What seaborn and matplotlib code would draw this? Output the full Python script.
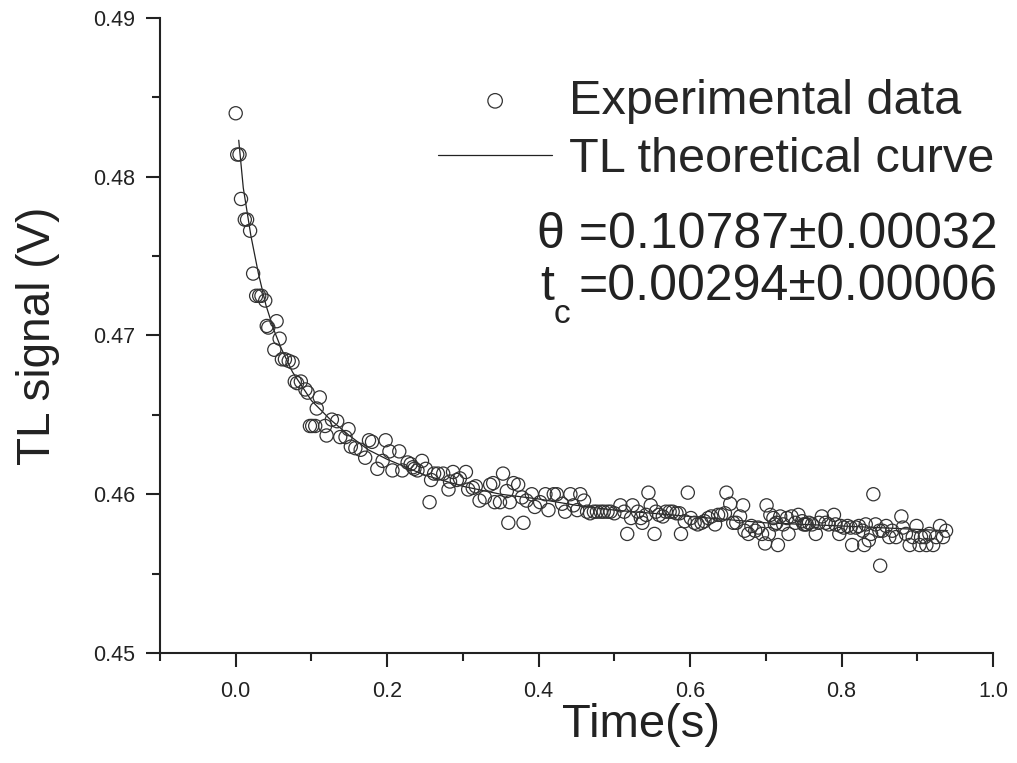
import numpy as np
import seaborn as sns
import matplotlib.pyplot as plt
from matplotlib.ticker import MultipleLocator

# ---- experimental TL signal ----
time_s = [
    0.000, 0.002, 0.005, 0.007, 0.012, 0.015, 0.019, 0.023, 0.027, 0.031,
    0.034, 0.039, 0.041, 0.043, 0.051, 0.054, 0.058, 0.061, 0.065, 0.070,
    0.075, 0.078, 0.081, 0.086, 0.092, 0.095, 0.098, 0.101, 0.105, 0.107,
    0.111, 0.118, 0.120, 0.127, 0.134, 0.138, 0.145, 0.149, 0.152, 0.158,
    0.165, 0.171, 0.176, 0.180, 0.187, 0.194, 0.198, 0.203, 0.207, 0.216,
    0.220, 0.227, 0.231, 0.234, 0.236, 0.240, 0.246, 0.251, 0.256, 0.258,
    0.262, 0.267, 0.274, 0.281, 0.283, 0.287, 0.292, 0.296, 0.304, 0.307,
    0.313, 0.317, 0.322, 0.329, 0.336, 0.340, 0.342, 0.349, 0.353, 0.358,
    0.360, 0.362, 0.367, 0.373, 0.378, 0.380, 0.384, 0.391, 0.395, 0.402,
    0.409, 0.413, 0.420, 0.424, 0.431, 0.435, 0.442, 0.446, 0.451, 0.455,
    0.460, 0.464, 0.468, 0.473, 0.477, 0.482, 0.486, 0.491, 0.495, 0.500,
    0.508, 0.513, 0.517, 0.522, 0.524, 0.531, 0.535, 0.537, 0.542, 0.545,
    0.548, 0.553, 0.555, 0.559, 0.564, 0.568, 0.573, 0.577, 0.582, 0.586,
    0.588, 0.593, 0.597, 0.601, 0.606, 0.610, 0.615, 0.619, 0.624, 0.628,
    0.633, 0.637, 0.641, 0.646, 0.648, 0.653, 0.657, 0.661, 0.666, 0.670,
    0.672, 0.677, 0.681, 0.686, 0.690, 0.695, 0.699, 0.701, 0.704, 0.706,
    0.710, 0.712, 0.714, 0.716, 0.719, 0.723, 0.728, 0.730, 0.734, 0.739,
    0.743, 0.748, 0.750, 0.752, 0.754, 0.757, 0.761, 0.766, 0.770, 0.774,
    0.779, 0.783, 0.790, 0.792, 0.797, 0.799, 0.803, 0.808, 0.812, 0.814,
    0.819, 0.823, 0.828, 0.830, 0.832, 0.836, 0.839, 0.842, 0.845, 0.850,
    0.851, 0.854, 0.859, 0.863, 0.867, 0.872, 0.879, 0.881, 0.885, 0.890,
    0.894, 0.899, 0.903, 0.905, 0.910, 0.912, 0.916, 0.921, 0.925, 0.930,
    0.934, 0.938,
]
signal_v = [
    0.4840, 0.4814, 0.4814, 0.4786, 0.4773, 0.4773, 0.4766, 0.4739, 0.4725, 0.4725,
    0.4725, 0.4722, 0.4706, 0.4705, 0.4691, 0.4709, 0.4698, 0.4685, 0.4685, 0.4684,
    0.4683, 0.4671, 0.4670, 0.4671, 0.4666, 0.4664, 0.4643, 0.4643, 0.4643, 0.4654,
    0.4661, 0.4643, 0.4637, 0.4647, 0.4646, 0.4636, 0.4636, 0.4641, 0.4630, 0.4629,
    0.4628, 0.4623, 0.4634, 0.4633, 0.4616, 0.4621, 0.4634, 0.4627, 0.4615, 0.4627,
    0.4615, 0.4620, 0.4619, 0.4617, 0.4616, 0.4615, 0.4621, 0.4616, 0.4595, 0.4609,
    0.4613, 0.4613, 0.4613, 0.4603, 0.4608, 0.4614, 0.4609, 0.4610, 0.4614, 0.4603,
    0.4604, 0.4605, 0.4596, 0.4598, 0.4606, 0.4607, 0.4595, 0.4595, 0.4613, 0.4602,
    0.4582, 0.4595, 0.4607, 0.4606, 0.4598, 0.4582, 0.4596, 0.4600, 0.4592, 0.4595,
    0.4600, 0.4590, 0.4600, 0.4600, 0.4594, 0.4589, 0.4600, 0.4593, 0.4590, 0.4600,
    0.4596, 0.4589, 0.4588, 0.4589, 0.4589, 0.4589, 0.4589, 0.4589, 0.4589, 0.4588,
    0.4593, 0.4589, 0.4575, 0.4585, 0.4593, 0.4589, 0.4585, 0.4582, 0.4587, 0.4601,
    0.4593, 0.4575, 0.4589, 0.4587, 0.4586, 0.4589, 0.4589, 0.4589, 0.4588, 0.4588,
    0.4575, 0.4583, 0.4601, 0.4585, 0.4582, 0.4581, 0.4582, 0.4583, 0.4585, 0.4586,
    0.4581, 0.4587, 0.4587, 0.4588, 0.4601, 0.4594, 0.4582, 0.4582, 0.4586, 0.4593,
    0.4577, 0.4575, 0.4580, 0.4577, 0.4579, 0.4575, 0.4569, 0.4593, 0.4575, 0.4587,
    0.4585, 0.4581, 0.4582, 0.4568, 0.4586, 0.4581, 0.4585, 0.4575, 0.4586, 0.4582,
    0.4587, 0.4583, 0.4581, 0.4581, 0.4581, 0.4582, 0.4581, 0.4575, 0.4582, 0.4586,
    0.4582, 0.4581, 0.4587, 0.4581, 0.4575, 0.4580, 0.4579, 0.4580, 0.4579, 0.4568,
    0.4579, 0.4580, 0.4577, 0.4568, 0.4581, 0.4571, 0.4575, 0.4600, 0.4581, 0.4577,
    0.4555, 0.4577, 0.4580, 0.4573, 0.4577, 0.4573, 0.4586, 0.4579, 0.4575, 0.4568,
    0.4573, 0.4580, 0.4568, 0.4573, 0.4573, 0.4568, 0.4575, 0.4568, 0.4573, 0.4580,
    0.4573, 0.4577,
]

# ---- theoretical TL curve ----
fit_time = [0.004, 0.010, 0.020, 0.030, 0.040, 0.050, 0.060, 0.075, 0.100, 0.125,
            0.150, 0.175, 0.200, 0.250, 0.300, 0.350, 0.400, 0.450, 0.500, 0.600,
            0.700, 0.800, 0.940]
fit_signal = [0.4823, 0.4793, 0.4763, 0.4739, 0.4719, 0.4704, 0.4692, 0.4677, 0.4659, 0.4647,
              0.4637, 0.4628, 0.4622, 0.4612, 0.4605, 0.4600, 0.4597, 0.4593, 0.4590, 0.4586,
              0.4582, 0.4580, 0.4577]

theta_txt = "θ =0.10787±0.00032"
tc_txt = "=0.00294±0.00006"


def main():
    sns.set_style("ticks")
    plt.rcParams['font.family'] = ['Liberation Sans', 'DejaVu Sans']

    fig = plt.figure(figsize=(10.17, 7.63), dpi=100)
    ax = fig.add_axes([0.1573, 0.1442, 0.8191, 0.8322])

    sns.lineplot(x=fit_time, y=fit_signal, ax=ax, color="#222222", lw=0.9,
                 label="TL theoretical curve")
    sns.scatterplot(x=time_s, y=signal_v, ax=ax, marker="o", s=90,
                    facecolors="none", edgecolor="#333333", linewidth=0.9,
                    label="Experimental data", zorder=3)

    ax.set_xlim(-0.1, 1.0)
    ax.set_ylim(0.45, 0.49)
    ax.xaxis.set_minor_locator(MultipleLocator(0.1))
    ax.yaxis.set_minor_locator(MultipleLocator(0.005))
    ax.set_xticks([0.0, 0.2, 0.4, 0.6, 0.8, 1.0])
    ax.set_xticklabels(["0.0", "0.2", "0.4", "0.6", "0.8", "1.0"])
    ax.set_yticks([0.45, 0.46, 0.47, 0.48, 0.49])
    ax.set_yticklabels(["0.45", "0.46", "0.47", "0.48", "0.49"])

    for side in ["top", "right"]:
        ax.spines[side].set_visible(False)
    for side in ["left", "bottom"]:
        ax.spines[side].set_linewidth(1.5)
        ax.spines[side].set_color("#222222")

    ax.tick_params(which="major", direction="out", length=10, width=1.5,
                   colors="#222222", labelsize=15.5)
    ax.tick_params(axis="x", which="major", pad=10)
    ax.tick_params(axis="y", which="major", pad=8)
    ax.tick_params(which="minor", direction="out", length=5.5, width=1.5,
                   colors="#222222")

    ax.set_xlabel("Time(s)", fontsize=34, color="#222222")
    ax.set_ylabel("TL signal (V)", fontsize=33, color="#222222")
    ax.xaxis.set_label_coords(0.577, -0.078)
    ax.yaxis.set_label_coords(-0.12, 0.5)

    # legend, order as in the original figure
    handles, labels = ax.get_legend_handles_labels()
    order = [labels.index("Experimental data"), labels.index("TL theoretical curve")]
    ax.legend([handles[i] for i in order], [labels[i] for i in order],
              loc="upper right", bbox_to_anchor=(0.978, 0.897),
              bbox_transform=fig.transFigure, frameon=False, fontsize=35,
              handlelength=2.35, handletextpad=0.35, borderpad=0, borderaxespad=0,
              labelspacing=0.27, markerscale=1.1)

    # fit parameters
    fig.text(0.981, 1 - 248 / 763, theta_txt, fontsize=36, ha="right", va="baseline",
             color="#222222")
    fig.text(0.981, 1 - 300 / 763, tc_txt, fontsize=36, ha="right", va="baseline",
             color="#222222")
    fig.text(540 / 1017, 1 - 300 / 763, "t", fontsize=36, ha="left", va="baseline",
             color="#222222")
    fig.text(554 / 1017, 1 - 323 / 763, "c", fontsize=24, ha="left", va="baseline",
             color="#222222")

    plt.savefig("out.png", dpi=100)


if __name__ == '__main__':
    main()
